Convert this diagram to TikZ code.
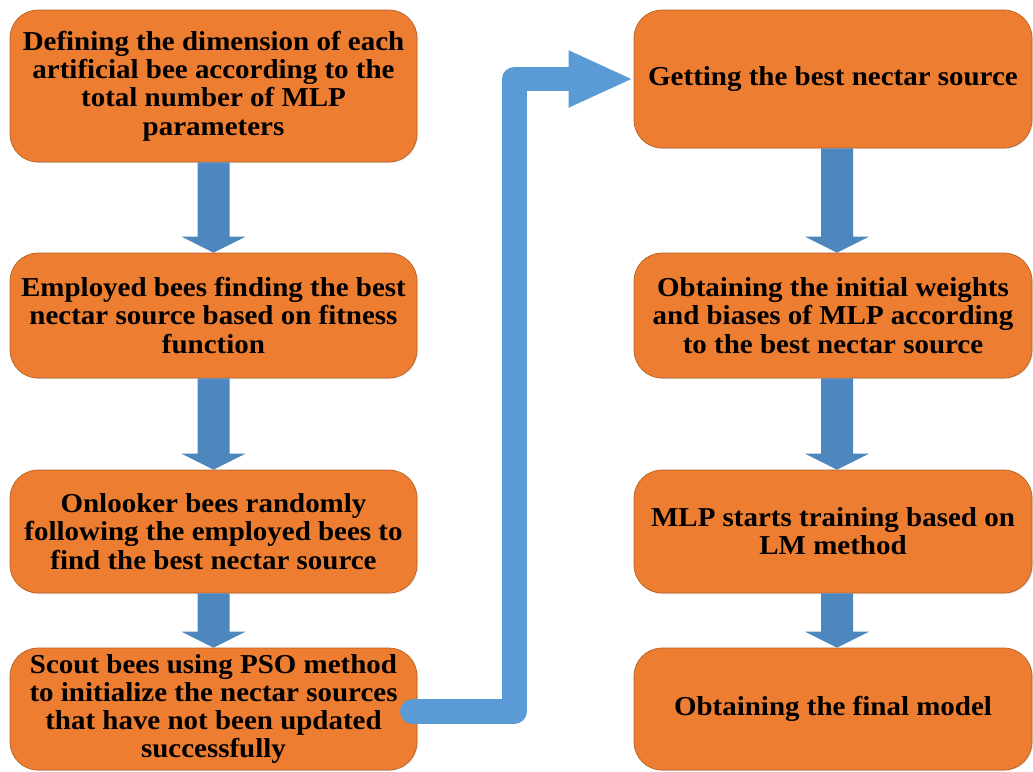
\documentclass[tikz,border=0pt]{standalone}
\usepackage{fontspec}
\setmainfont{Liberation Serif}[FakeStretch=1.06]
\usetikzlibrary{calc,arrows.meta,shadows}
\definecolor{boxorange}{RGB}{237,125,49}
\definecolor{boxedge}{RGB}{178,96,40}
\definecolor{arrowblue}{RGB}{78,135,190}
\definecolor{connblue}{RGB}{91,155,213}
\tikzset{
  stepbox/.style={rectangle, rounded corners=21pt, fill=boxorange, draw=boxedge, line width=0.5pt,
    align=center, inner sep=2pt, text=black,
    font=\fontsize{20.5pt}{21.2pt}\selectfont\bfseries,
    drop shadow={opacity=0.18, shadow xshift=0.8pt, shadow yshift=-0.8pt}},
  leftbox/.style={stepbox, minimum width=305.25pt},
  rightbox/.style={stepbox, minimum width=298.5pt},
  blockarrow/.style={fill=arrowblue},
  conn/.style={draw=connblue, line width=18.5pt, line cap=round, line join=round,
    -{Triangle[length=48.75pt,width=39pt]}}
}
\newcommand{\blockdown}[3]{%
  \fill[blockarrow] ($(#1.south)+(#3-16,0)$) -- ($(#1.south)+(#3+16,0)$)
    -- ($(#2.north)+(#3+16,-16)$) -- ($(#2.north)+(#3+32,-16)$)
    -- ($(#2.north)+(#3,0)$) -- ($(#2.north)+(#3-32,-16)$)
    -- ($(#2.north)+(#3-16,-16)$) -- cycle;}
\begin{document}
\begin{tikzpicture}[x=0.75pt,y=-0.75pt]
\useasboundingbox (0,0) rectangle (1033,772);
% left column
\node[leftbox, minimum height=114pt] (L1) at (213.5,86) {Defining the dimension of each\\artificial bee according to the\\total number of MLP\\parameters};
\node[leftbox, minimum height=93.75pt] (L2) at (213.5,315.5) {Employed bees finding the best\\nectar source based on fitness\\function};
\node[leftbox, minimum height=92.25pt] (L3) at (213.5,531.5) {Onlooker bees randomly\\following the employed bees to\\find the best nectar source};
\node[leftbox, minimum height=91.5pt] (L4) at (213.5,709) {Scout bees using PSO method\\to initialize the nectar sources\\that have not been updated\\successfully};
% right column
\node[rightbox, minimum height=103.5pt] (R1) at (833,79) {Getting the best nectar source};
\node[rightbox, minimum height=93.75pt] (R2) at (833,315.5) {Obtaining the initial weights\\and biases of MLP according\\to the best nectar source};
\node[rightbox, minimum height=92.25pt] (R3) at (833,531.5) {MLP starts training based on\\LM method};
\node[rightbox, minimum height=91.5pt] (R4) at (833,709) {Obtaining the final model};
% block arrows
\blockdown{L1}{L2}{0}
\blockdown{L2}{L3}{0}
\blockdown{L3}{L4}{0}
\blockdown{R1}{R2}{4}
\blockdown{R2}{R3}{4}
\blockdown{R3}{R4}{4}
% elbow connector
\coordinate (cstart) at ($(L4.east)+(-5,2.5)$);
\draw[conn] (cstart) -- ($(cstart)+(102,0)$) |- (R1.west);
\end{tikzpicture}
\end{document}
